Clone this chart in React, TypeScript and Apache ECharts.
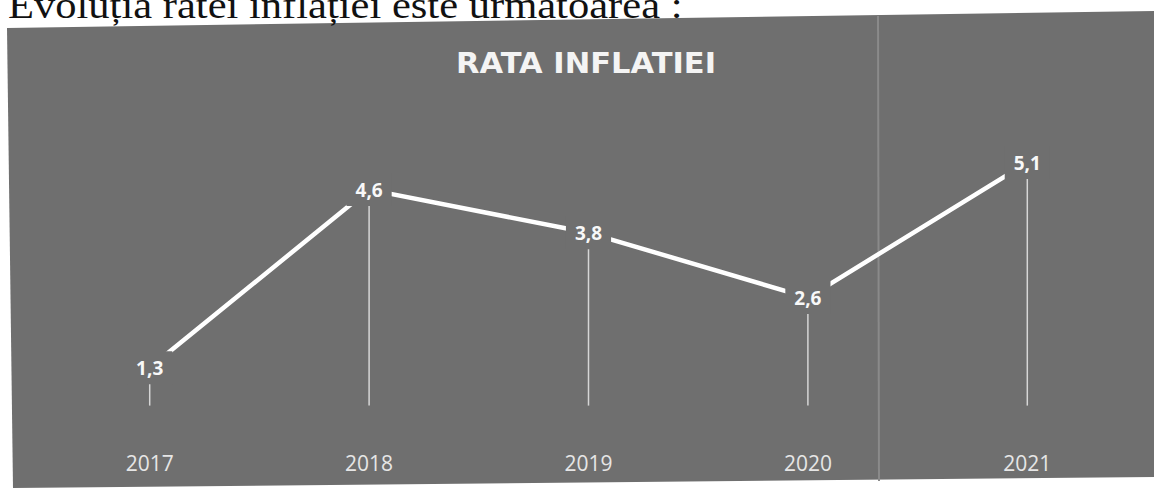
import React, { useEffect, useRef } from "react";
import * as echarts from "echarts";

const categories = ["2017", "2018", "2019", "2020", "2021"];
const inflation = [1.3, 4.6, 3.8, 2.6, 5.1];
const dropBase = 0.6;
const chartTitle = "RATA INFLATIEI";
const caption = "Evoluția ratei inflației este următoarea :";

const PANEL = "#6f6f6f";

export default function App() {
  const ref = useRef<HTMLDivElement>(null);
  useEffect(() => {
    if (!ref.current) return;
    const chart = echarts.init(ref.current, null, { renderer: "svg" });
    const fmt = (v: number) => String(v).replace(".", ",");
    chart.setOption({
      animation: false,
      backgroundColor: "#ffffff",
      graphic: [
        {
          type: "polygon",
          z: -10,
          silent: true,
          shape: { points: [[7, 28], [1154, 11], [1154, 477], [13, 488]] },
          style: { fill: PANEL },
        },
        {
          type: "line",
          z: -9,
          silent: true,
          shape: { x1: 878, y1: 16, x2: 879, y2: 481 },
          style: { stroke: "#8a8a8a", lineWidth: 2 },
        },
        {
          type: "text",
          x: 8,
          y: 5,
          z: 5,
          scaleX: 1.12,
          silent: true,
          style: {
            text: caption,
            font: "38px 'Liberation Serif'",
            fill: "#111111",
            verticalAlign: "middle",
            align: "left",
          },
        },
        {
          type: "text",
          x: 586,
          y: 63,
          z: 5,
          scaleX: 1.09,
          silent: true,
          style: {
            text: chartTitle,
            font: "bold 28px 'DejaVu Sans'",
            fill: "#f4f4f4",
            align: "center",
            verticalAlign: "middle",
          },
        },
      ],
      grid: { left: 40, right: 17, top: 114, bottom: 52 },
      xAxis: {
        type: "category",
        data: categories,
        boundaryGap: true,
        axisLine: { show: false },
        axisTick: { show: false },
        axisLabel: {
          color: "#e6e6e6",
          fontSize: 21,
          fontFamily: "'Open Sans'",
          margin: 14,
        },
        splitLine: { show: false },
      },
      yAxis: {
        type: "value",
        min: 0,
        max: 6,
        show: false,
        splitLine: { show: false },
      },
      series: [
        {
          type: "custom",
          z: 1,
          silent: true,
          data: inflation.map((v, i) => [i, v]),
          encode: { x: 0, y: 1 },
          renderItem: (params: any, api: any) => {
            const i = api.value(0);
            const top = api.coord([i, api.value(1)]);
            const bot = api.coord([i, dropBase]);
            return {
              type: "line",
              shape: { x1: top[0], y1: top[1], x2: bot[0], y2: bot[1] },
              style: { stroke: "#d6d6d6", lineWidth: 1.5 },
            };
          },
        },
        {
          type: "line",
          z: 3,
          data: inflation,
          symbol: "circle",
          symbolSize: 1,
          showSymbol: true,
          itemStyle: { color: "#ffffff" },
          lineStyle: { color: "#ffffff", width: 4.5 },
          label: {
            show: true,
            position: "inside",
            formatter: (p: any) => fmt(p.value),
            color: "#f8f8f8",
            fontSize: 19,
            fontWeight: "bold",
            fontFamily: "'Open Sans'",
            backgroundColor: PANEL,
            padding: [7, 9],
          },
        },
      ],
    });
    return () => chart.dispose();
  }, []);
  return (
    <div
      ref={ref}
      style={{ position: "fixed", left: 0, top: 0, width: 1154, height: 490 }}
    />
  );
}
